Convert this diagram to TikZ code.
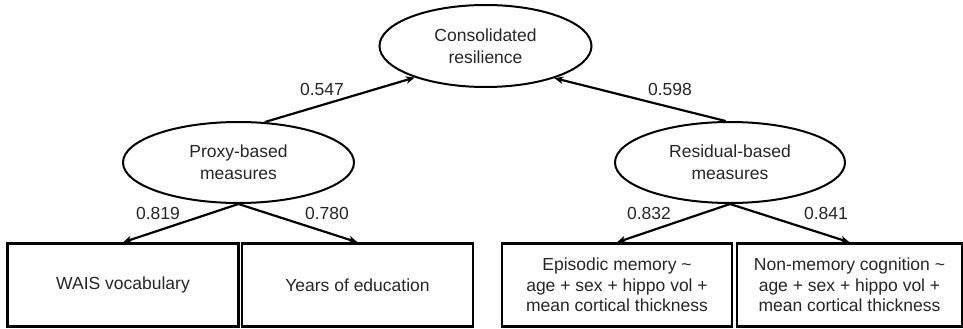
\documentclass[tikz,border=0pt]{standalone}
\usepackage{fontspec}
\setmainfont{Liberation Sans}
\usetikzlibrary{shapes.geometric,arrows.meta}
\begin{document}
\begin{tikzpicture}[x=1pt,y=-1pt,
  every node/.style={font=\fontsize{17.5}{20.5}\selectfont, text=black!85},
  latent/.style={ellipse, draw=black, line width=2pt, inner sep=0pt, minimum width=#1, minimum height=81pt, align=center, font=\fontsize{17.5}{22}\selectfont},
  obsbox/.style={rectangle, draw=black, line width=2.4pt, inner sep=0pt, minimum width=#1, minimum height=83pt, align=center},
  path/.style={line width=2.2pt, -{Stealth[length=9pt,width=7.5pt]}},
  coef/.style={inner sep=1pt}]
\useasboundingbox (0,0) rectangle (963,329);
\node[latent=212pt, minimum height=82pt] (cons) at (485.5,46) {Consolidated\\resilience};
\node[latent=231pt] (proxy) at (238.5,162.5) {Proxy-based\\measures};
\node[latent=230pt] (resid) at (730,162.5) {Residual-based\\measures};
\node[obsbox=231pt] (wais) at (123,285) {WAIS vocabulary};
\node[obsbox=231pt] (years) at (357.5,285) {Years of education};
\node[obsbox=230pt] (epi) at (617,285) {Episodic memory \char`~\\age + sex + hippo vol +\\mean cortical thickness};
\node[obsbox=225pt] (nonmem) at (849.5,285) {Non-memory cognition \char`~\\age + sex + hippo vol +\\mean cortical thickness};
\draw[path] (proxy.57) -- (cons.204);
\draw[path] (resid.96) -- (cons.335);
\draw[path] (proxy.south) -- (wais.north);
\draw[path] (proxy.south) -- (years.north);
\draw[path] (resid.south) -- (epi.north);
\draw[path] (resid.south) -- (nonmem.north);
\node[coef] (c1) at (322,89) {0.547};
\node[coef] (c2) at (670,89) {0.598};
\node[coef] (c3) at (158,213) {0.819};
\node[coef] (c4) at (327,213) {0.780};
\node[coef] (c5) at (649,213) {0.832};
\node[coef] (c6) at (826,213) {0.841};
\end{tikzpicture}
\end{document}
